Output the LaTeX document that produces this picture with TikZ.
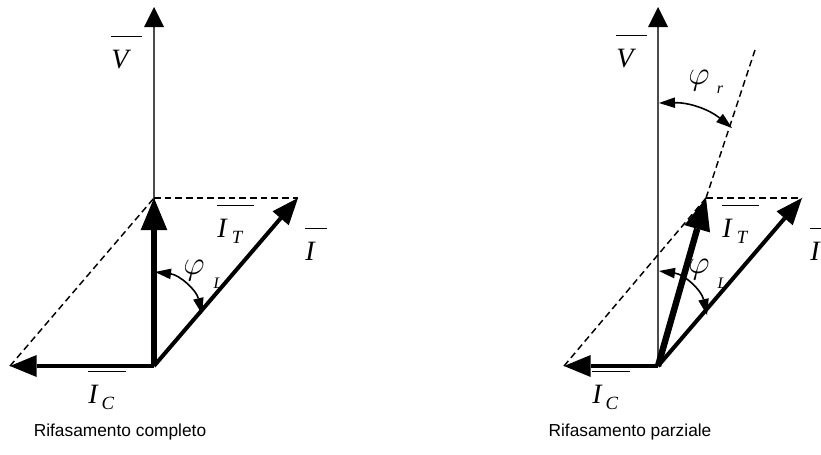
\documentclass[tikz,border=0pt]{standalone}
\usepackage{amsmath}
\usepackage{fontspec}
\setmainfont{Liberation Serif}
\newfontfamily\capfont{Liberation Sans}
\usetikzlibrary{arrows.meta,positioning}
\newcommand{\subtxt}[1]{\raisebox{-5pt}{\fontsize{14}{15}\selectfont\textit{#1}}}
\newcommand{\phlbl}[4]{$\overline{\rule{0pt}{21pt}\textit{#1}\hspace{#3}\subtxt{#2}\hspace{#4}}$}
\newcommand{\onelbl}[2]{$\overline{\rule{0pt}{21pt}\textit{#1}\hspace{#2}}$}
\tikzset{
  axisline/.style={draw=black!70,line width=1.1pt,
    -{Triangle[length=15pt,width=15pt,line width=0pt,color=black]}},
  icarrow/.style={line width=3.7pt,
    -{Triangle[length=20pt,width=16.5pt,line width=0pt]}},
  itarrow/.style={line width=4.8pt,
    -{Triangle[length=24pt,width=20pt,line width=0pt]}},
  iarrow/.style={line width=3pt,
    -{Triangle[length=20pt,width=16pt,line width=0pt]}},
  guide/.style={line width=1.1pt,dash pattern=on 5pt off 3pt},
  anglearc/.style={line width=1.2pt,
    {Triangle[length=12pt,width=8pt,line width=0pt]}-{Triangle[length=12pt,width=8pt,line width=0pt]}},
  lbl/.style={inner sep=0pt,anchor=base west,font=\fontsize{21}{24}\selectfont},
  philbl/.style={inner sep=0pt,font=\fontsize{25}{27}\selectfont},
  sublbl/.style={inner sep=0pt,font=\fontsize{12}{13}\selectfont\itshape},
  caption/.style={inner sep=0pt,font=\capfont\fontsize{13}{15}\selectfont},
}
\begin{document}
\begin{tikzpicture}[x=0.75pt,y=-0.75pt]
  \useasboundingbox (0,0) rectangle (821,454);
  \clip (0,0) rectangle (821,454);
  % Rifasamento completo
  \coordinate (O1) at (154,366);
  \coordinate (V1) at (154,7);
  \coordinate (IC1) at (10,366);
  \coordinate (IT1) at (154,198);
  \coordinate (I1) at (298,198);
  \coordinate (aL1) at (155,272);
  \coordinate (bL1) at (202,314);
  \draw[axisline] (O1) -- (V1);
  \draw[guide] (IT1) -- (I1);
  \draw[guide] (IC1) -- (IT1);
  \draw[icarrow] (O1) -- (IC1);
  \draw[itarrow] (O1) -- (IT1);
  \draw[iarrow] (O1) -- (I1);
  \draw[anglearc] (aL1) to[bend left=35] (bL1);
  \node[lbl] (V1lbl) at (111,68) {\onelbl{V}{10pt}};
  \node[lbl] (IT1lbl) at (217,237) {\phlbl{I}{T}{4pt}{8pt}};
  \node[lbl] (I1lbl) at (305,260) {\onelbl{I}{9pt}};
  \node[lbl] (IC1lbl) at (88,403) {\phlbl{I}{C}{3pt}{9pt}};
  \node[philbl] (phiL1) at (194,271) {$\varphi$};
  \node[sublbl] (L1) at (218,283) {L};
  \node[caption] (cap1) at (120,432) {Rifasamento completo};
  % Rifasamento parziale
  \coordinate (O2) at (658,366);
  \coordinate (V2) at (658,7);
  \coordinate (IC2) at (564,366);
  \coordinate (IT2) at (706,198);
  \coordinate (I2) at (802,198);
  \coordinate (R2) at (755,50);
  \coordinate (aL2) at (659,271);
  \coordinate (bL2) at (707,315);
  \coordinate (ar2) at (659,103);
  \coordinate (br2) at (732,128);
  \draw[axisline] (O2) -- (V2);
  \draw[guide] (IT2) -- (I2);
  \draw[guide] (IC2) -- (IT2);
  \draw[guide] (IT2) -- (R2);
  \draw[icarrow] (O2) -- (IC2);
  \draw[itarrow] (O2) -- (IT2);
  \draw[iarrow] (O2) -- (I2);
  \draw[anglearc] (aL2) to[bend left=35] (bL2);
  \draw[anglearc] (ar2) to[bend left=20] (br2);
  \node[lbl] (V2lbl) at (616,67) {\onelbl{V}{10pt}};
  \node[lbl] (IT2lbl) at (722,237) {\phlbl{I}{T}{4pt}{8pt}};
  \node[lbl] (I2lbl) at (810,260) {\onelbl{I}{9pt}};
  \node[lbl] (IC2lbl) at (592,403) {\phlbl{I}{C}{3pt}{9pt}};
  \node[philbl] (phiL2) at (699,270) {$\varphi$};
  \node[sublbl] (L2) at (722,283) {L};
  \node[philbl] (phir2) at (699,81) {$\varphi$};
  \node[sublbl] (r2) at (720,90) {r};
  \node[caption] (cap2) at (630,432) {Rifasamento parziale};
\end{tikzpicture}
\end{document}
